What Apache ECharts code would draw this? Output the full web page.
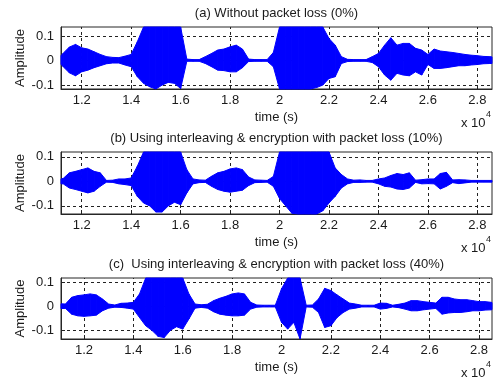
<!DOCTYPE html>
<html lang="en">
<head>
  <meta charset="UTF-8">
  <title>Speech waveforms</title>
  <script src="https://cdn.jsdelivr.net/npm/echarts@6/dist/echarts.min.js"></script>
  <style>
    html, body { margin: 0; padding: 0; background: #fff; }
    #chart { width: 494px; height: 383px; }
  </style>
</head>
<body>
  <div id="chart"></div>
  <script>
    // sample positions (samples), envelope read every 250 samples
    var times = [
      11000, 11250, 11500, 11750, 12000, 12250, 12500, 12750, 13000, 13250, 13500, 13750,
      14000, 14250, 14500, 14750, 15000, 15250, 15500, 15750, 16000, 16250, 16500, 16750,
      17000, 17250, 17500, 17750, 18000, 18250, 18500, 18750, 19000, 19250, 19500, 19750,
      20000, 20250, 20500, 20750, 21000, 21250, 21500, 21750, 22000, 22250, 22500, 22750,
      23000, 23250, 23500, 23750, 24000, 24250, 24500, 24750, 25000, 25250, 25500, 25750,
      26000, 26250, 26500, 26750, 27000, 27250, 27500, 27750, 28000, 28250, 28500, 28750
    ]

    // (a) no packet loss: upper / lower envelope
    var upA = [
      0.020, 0.030, 0.055, 0.066, 0.052, 0.047, 0.036, 0.025, 0.016, 0.013, 0.012, 0.018,
      0.025, 0.077, 0.160, 0.160, 0.160, 0.160, 0.160, 0.160, 0.160, 0.006, 0.004, 0.004,
      0.016, 0.029, 0.043, 0.047, 0.056, 0.063, 0.047, 0.006, 0.004, 0.004, 0.004, 0.033,
      0.160, 0.160, 0.160, 0.160, 0.160, 0.160, 0.160, 0.160, 0.090, 0.063, 0.016, 0.005,
      0.004, 0.004, 0.004, 0.016, 0.029, 0.063, 0.093, 0.063, 0.070, 0.070, 0.050, 0.043,
      0.025, 0.047, 0.039, 0.036, 0.033, 0.029, 0.025, 0.022, 0.020, 0.017, 0.016, 0.015
    ]
    var loA = [
      -0.015, -0.025, -0.050, -0.062, -0.046, -0.039, -0.029, -0.021, -0.013, -0.010, -0.010, -0.018,
      -0.025, -0.066, -0.093, -0.107, -0.118, -0.100, -0.089, -0.093, -0.114, -0.003, -0.003, -0.003,
      -0.012, -0.025, -0.039, -0.041, -0.046, -0.046, -0.029, -0.004, -0.003, -0.003, -0.003, -0.025,
      -0.120, -0.120, -0.120, -0.120, -0.120, -0.120, -0.110, -0.100, -0.073, -0.066, -0.012, -0.004,
      -0.003, -0.003, -0.003, -0.008, -0.025, -0.059, -0.080, -0.052, -0.059, -0.062, -0.046, -0.059,
      -0.016, -0.032, -0.032, -0.029, -0.025, -0.021, -0.021, -0.018, -0.016, -0.013, -0.012, -0.012
    ]

    // (b) interleaving & encryption, 10% loss
    var upB = [
      0.010, 0.012, 0.035, 0.041, 0.048, 0.055, 0.041, 0.035, 0.004, 0.005, 0.010, 0.010,
      0.014, 0.062, 0.160, 0.160, 0.160, 0.160, 0.160, 0.160, 0.160, 0.048, 0.010, 0.006,
      0.005, 0.021, 0.035, 0.041, 0.051, 0.055, 0.048, 0.018, 0.006, 0.005, 0.004, 0.020,
      0.160, 0.160, 0.160, 0.160, 0.160, 0.160, 0.160, 0.160, 0.160, 0.055, 0.028, 0.010,
      0.005, 0.006, 0.004, 0.004, 0.010, 0.014, 0.024, 0.032, 0.028, 0.035, 0.005, 0.007,
      0.010, 0.010, 0.032, 0.037, 0.006, 0.007, 0.006, 0.004, 0.004, 0.004, 0.004, 0.004
    ]
    var loB = [
      -0.010, -0.010, -0.027, -0.033, -0.040, -0.047, -0.040, -0.020, -0.003, -0.004, -0.010, -0.013,
      -0.017, -0.061, -0.088, -0.100, -0.125, -0.125, -0.100, -0.085, -0.095, -0.047, -0.010, -0.005,
      -0.004, -0.020, -0.033, -0.040, -0.044, -0.040, -0.036, -0.017, -0.005, -0.004, -0.003, -0.020,
      -0.070, -0.100, -0.130, -0.150, -0.150, -0.150, -0.150, -0.120, -0.088, -0.061, -0.027, -0.010,
      -0.004, -0.004, -0.003, -0.003, -0.010, -0.020, -0.023, -0.031, -0.033, -0.027, -0.004, -0.010,
      -0.009, -0.010, -0.031, -0.020, -0.005, -0.009, -0.006, -0.003, -0.003, -0.003, -0.003, -0.003
    ]

    // (c) interleaving & encryption, 40% loss
    var upC = [
      0.010, 0.009, 0.037, 0.044, 0.047, 0.051, 0.047, 0.030, 0.009, 0.005, 0.012, 0.013,
      0.016, 0.051, 0.160, 0.160, 0.160, 0.160, 0.160, 0.160, 0.160, 0.051, 0.009, 0.006,
      0.008, 0.023, 0.033, 0.041, 0.051, 0.055, 0.051, 0.016, 0.005, 0.004, 0.004, 0.004,
      0.072, 0.160, 0.160, 0.160, 0.004, 0.005, 0.030, 0.074, 0.065, 0.047, 0.030, 0.013,
      0.009, 0.004, 0.004, 0.004, 0.013, 0.012, 0.004, 0.008, 0.013, 0.023, 0.023, 0.019,
      0.016, 0.013, 0.037, 0.037, 0.030, 0.027, 0.027, 0.023, 0.019, 0.019, 0.016, 0.015
    ]
    var loC = [
      -0.010, -0.009, -0.033, -0.040, -0.042, -0.040, -0.037, -0.019, -0.008, -0.004, -0.005, -0.008,
      -0.012, -0.047, -0.081, -0.100, -0.125, -0.130, -0.100, -0.085, -0.095, -0.053, -0.008, -0.005,
      -0.008, -0.023, -0.033, -0.037, -0.040, -0.040, -0.037, -0.012, -0.004, -0.003, -0.003, -0.003,
      -0.067, -0.095, -0.067, -0.140, -0.003, -0.004, -0.026, -0.088, -0.081, -0.047, -0.026, -0.012,
      -0.008, -0.003, -0.003, -0.003, -0.012, -0.009, -0.003, -0.006, -0.012, -0.019, -0.019, -0.015,
      -0.012, -0.009, -0.033, -0.028, -0.026, -0.026, -0.023, -0.019, -0.019, -0.016, -0.015, -0.014
    ]

    var titles = [
      '(a) Without packet loss (0%)',
      '(b) Using interleaving & encryption with packet loss (10%)',
      '(c)  Using interleaving & encryption with packet loss (40%)'
    ]
    var xTicks = [12000, 14000, 16000, 18000, 20000, 22000, 24000, 26000, 28000]
    var yTicks = [-0.1, 0, 0.1]
    var xMin = [11162, 11162, 11070]
    var xMax = [28592, 28592, 28525]
    var yMin = [-0.116, -0.133, -0.136]
    var yMax = [0.137, 0.120, 0.117]

    var ups = [upA, upB, upC]
    var los = [loA, loB, loC]

    var font = 'Liberation Sans, Arial, Helvetica, sans-serif'
    var ink = '#1a1a1a'
    var blue = '#0000ff'
    var tops = [27, 152, 278]
    var heights = [62, 62, 61]

    // one quad per pair of neighbouring envelope samples
    function renderBand(params, api) {
      var p0 = api.coord([api.value(0), api.value(2)])
      var p1 = api.coord([api.value(1), api.value(3)])
      var p2 = api.coord([api.value(1), api.value(5)])
      var p3 = api.coord([api.value(0), api.value(4)])
      var cs = params.coordSys
      var pts = echarts.graphic.clipPointsByRect([p0, p1, p2, p3], {
        x: cs.x, y: cs.y, width: cs.width, height: cs.height
      })
      return {
        type: 'polygon',
        shape: { points: pts },
        style: { fill: blue, stroke: blue, lineWidth: 1 }
      }
    }

    var grid = [], xAxis = [], yAxis = [], series = [], graphic = []

    for (var i = 0; i < 3; i++) {
      grid.push({
        left: 61, right: 2, top: tops[i], height: heights[i],
        show: true, borderColor: '#262626', borderWidth: 1, backgroundColor: '#fff'
      })
      xAxis.push({
        type: 'value', gridIndex: i, min: xMin[i], max: xMax[i],
        name: 'time (s)', nameLocation: 'middle', nameGap: 22,
        nameTextStyle: { fontFamily: font, fontSize: 13, color: ink },
        axisLine: { show: true, onZero: false, lineStyle: { color: '#262626', width: 1 } },
        axisTick: { show: true, inside: true, length: 4, customValues: xTicks, lineStyle: { color: '#262626' } },
        axisLabel: {
          customValues: xTicks, margin: 5, fontFamily: font, fontSize: 13, color: ink,
          formatter: function (v) { return String(v / 10000) }
        },
        splitLine: { show: false }
      })
      yAxis.push({
        type: 'value', gridIndex: i, min: yMin[i], max: yMax[i],
        axisLine: { show: true, onZero: false, lineStyle: { color: '#262626', width: 1 } },
        axisTick: { show: true, inside: true, length: 4, customValues: yTicks, lineStyle: { color: '#262626' } },
        axisLabel: {
          customValues: yTicks, margin: 7, fontFamily: font, fontSize: 13, color: ink,
          formatter: function (v) { return String(Math.round(v * 10) / 10) }
        },
        splitLine: { show: false }
      })

      var gridLines = yTicks.map(function (v) { return { yAxis: v } })
        .concat(xTicks.map(function (v) { return { xAxis: v } }))

      var segs = []
      for (var k = 0; k < times.length - 1; k++) {
        segs.push([times[k], times[k + 1], ups[i][k], ups[i][k + 1], los[i][k], los[i][k + 1]])
      }
      series.push({
        type: 'custom', xAxisIndex: i, yAxisIndex: i,
        renderItem: renderBand,
        encode: { x: [0, 1], y: [2, 3, 4, 5] },
        data: segs, z: 3, silent: true,
        markLine: {
          silent: true, symbol: ['none', 'none'], z: 1, animation: false,
          label: { show: false },
          lineStyle: { color: '#222', width: 1, type: [3, 3] },
          data: gridLines
        }
      })

      // title, y label and x 10^4 multiplier
      graphic.push({
        type: 'text', x: 276.5, y: tops[i] - 14,
        style: { text: titles[i], font: '13px ' + font, fill: ink, align: 'center', verticalAlign: 'middle' }
      })
      graphic.push({
        type: 'text', x: 20, y: tops[i] + heights[i] / 2, rotation: Math.PI / 2,
        style: { text: 'Amplitude', font: '13px ' + font, fill: ink, align: 'center', verticalAlign: 'middle' }
      })
      graphic.push({
        type: 'text', x: 461, y: tops[i] + heights[i] + 34,
        style: { text: 'x 10', font: '13px ' + font, fill: ink, verticalAlign: 'middle' }
      })
      graphic.push({
        type: 'text', x: 486, y: tops[i] + heights[i] + 26,
        style: { text: '4', font: '9px ' + font, fill: ink, verticalAlign: 'middle' }
      })
    }

    var mCharts = echarts.init(document.getElementById('chart'))
    mCharts.setOption({
      animation: false,
      backgroundColor: '#fff',
      grid: grid,
      xAxis: xAxis,
      yAxis: yAxis,
      series: series,
      graphic: graphic
    })
  </script>
</body>
</html>
